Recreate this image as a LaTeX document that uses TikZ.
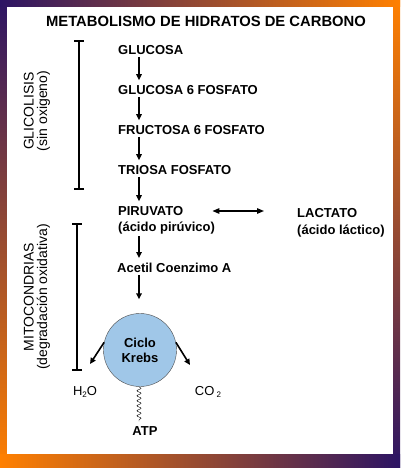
\documentclass[tikz,border=0pt]{standalone}
\usepackage{fontspec}
\setmainfont{Liberation Sans}
\usetikzlibrary{arrows.meta, positioning, decorations.pathmorphing}
\definecolor{FrameViolet}{RGB}{44, 20, 100}
\definecolor{FrameOrange}{RGB}{255, 128, 0}
\definecolor{KrebsBlue}{RGB}{160, 199, 232}

\begin{document}
\begin{tikzpicture}[
    x=1pt, y=-1pt,
    every node/.style={inner sep=0pt, font=\fontsize{13}{15}\selectfont\bfseries},
    stage/.style={anchor=west},
    side/.style={rotate=90, align=center, font=\fontsize{14}{13.5}\selectfont},
    product/.style={font=\fontsize{13}{15}\selectfont},
    flow/.style={-{Triangle[length=6pt, width=5.5pt]}, line width=1.6pt,
                 shorten <=2pt, shorten >=5pt},
    swap/.style={{Triangle[length=7pt, width=5.5pt]}-{Triangle[length=7pt, width=5.5pt]}, line width=1.3pt},
    phase/.style={{Bar[width=10pt]}-{Bar[width=10pt]}, line width=1.6pt}
]
\useasboundingbox (0,0) rectangle (400,468);
% marco degradado
\shade[top color=FrameViolet, bottom color=FrameOrange] (0,0) rectangle (7,468);
\shade[top color=FrameOrange, bottom color=FrameViolet] (393,0) rectangle (400,468);
\shade[left color=FrameViolet, right color=FrameOrange] (0,0) rectangle (400,7);
\shade[left color=FrameOrange, right color=FrameViolet] (0,454) rectangle (400,468);
\fill[white] (7,7) rectangle (393,454);

\node (title) at (206,21) {\fontsize{14.8}{17}\selectfont METABOLISMO DE HIDRATOS DE CARBONO};

\coordinate (spine) at (139,0);
\node[stage] (glucosa) at (118,50) {GLUCOSA};
\node[stage] (g6f) at (118,90) {GLUCOSA 6 FOSFATO};
\node[stage] (f6f) at (118,130) {FRUCTOSA 6 FOSFATO};
\node[stage] (triosa) at (118,170) {TRIOSA FOSFATO};
\node[stage] (piruvato) at (118,211) {PIRUVATO};
\node[stage] (piruvatosub) at (118,228) {(ácido pirúvico)};
\node[stage] (lactato) at (297,213) {LACTATO};
\node[stage] (lactatosub) at (297,231) {(ácido láctico)};
\node[stage] (acetil) at (117,268) {Acetil Coenzimo A};
\node[circle, draw=black!70, fill=KrebsBlue, minimum size=73pt, align=center] (krebs) at (140,350) {Ciclo\\Krebs};
\node[product] (h2o) at (85,392) {H\raisebox{-2.5pt}{\fontsize{8}{9}\selectfont 2}O};
\node[product] (co2) at (208,392) {CO\,\raisebox{-2.5pt}{\fontsize{8}{9}\selectfont 2}};
\node (atp) at (145,431) {ATP};
\coordinate (h2oend) at (90,364);
\coordinate (co2end) at (190,365);

\draw[flow] (glucosa.south -| spine) -- (g6f.north -| spine);
\draw[flow] (g6f.south -| spine) -- (f6f.north -| spine);
\draw[flow] (f6f.south -| spine) -- (triosa.north -| spine);
\draw[flow] (triosa.south -| spine) -- (piruvato.north -| spine);
\draw[flow] (piruvatosub.south -| spine) -- (acetil.north -| spine);
\draw[flow, shorten >=14pt] (acetil.south -| spine) -- (krebs.north -| spine);
\draw[swap] ([xshift=29pt]piruvato.east) -- ([xshift=-33pt]piruvato.east -| lactato.west);
\draw[flow, shorten <=0pt, shorten >=0pt] (krebs.168) -- (h2oend);
\draw[flow, shorten <=0pt, shorten >=0pt] (krebs.12) -- (co2end);
\draw[decorate, decoration={snake, segment length=5pt, amplitude=2pt}]
    ([xshift=-1pt]krebs.south) -- ([xshift=-1pt, yshift=5pt]krebs.south |- atp.north);

% fases
\coordinate (glyTop) at (79,40);
\coordinate (glyBot) at (79,190);
\coordinate (mitTop) at (77,223);
\coordinate (mitBot) at (77,371);
\draw[phase] (glyTop) -- (glyBot);
\draw[phase] (mitTop) -- (mitBot);
\node[side] (glicolisis) at (37,111) {GLICOLISIS\\(sin oxigeno)};
\node[side] (mitocondrias) at (37,297) {MITOCONDRIAS\\(degradación oxidativa)};
\end{tikzpicture}
\end{document}
